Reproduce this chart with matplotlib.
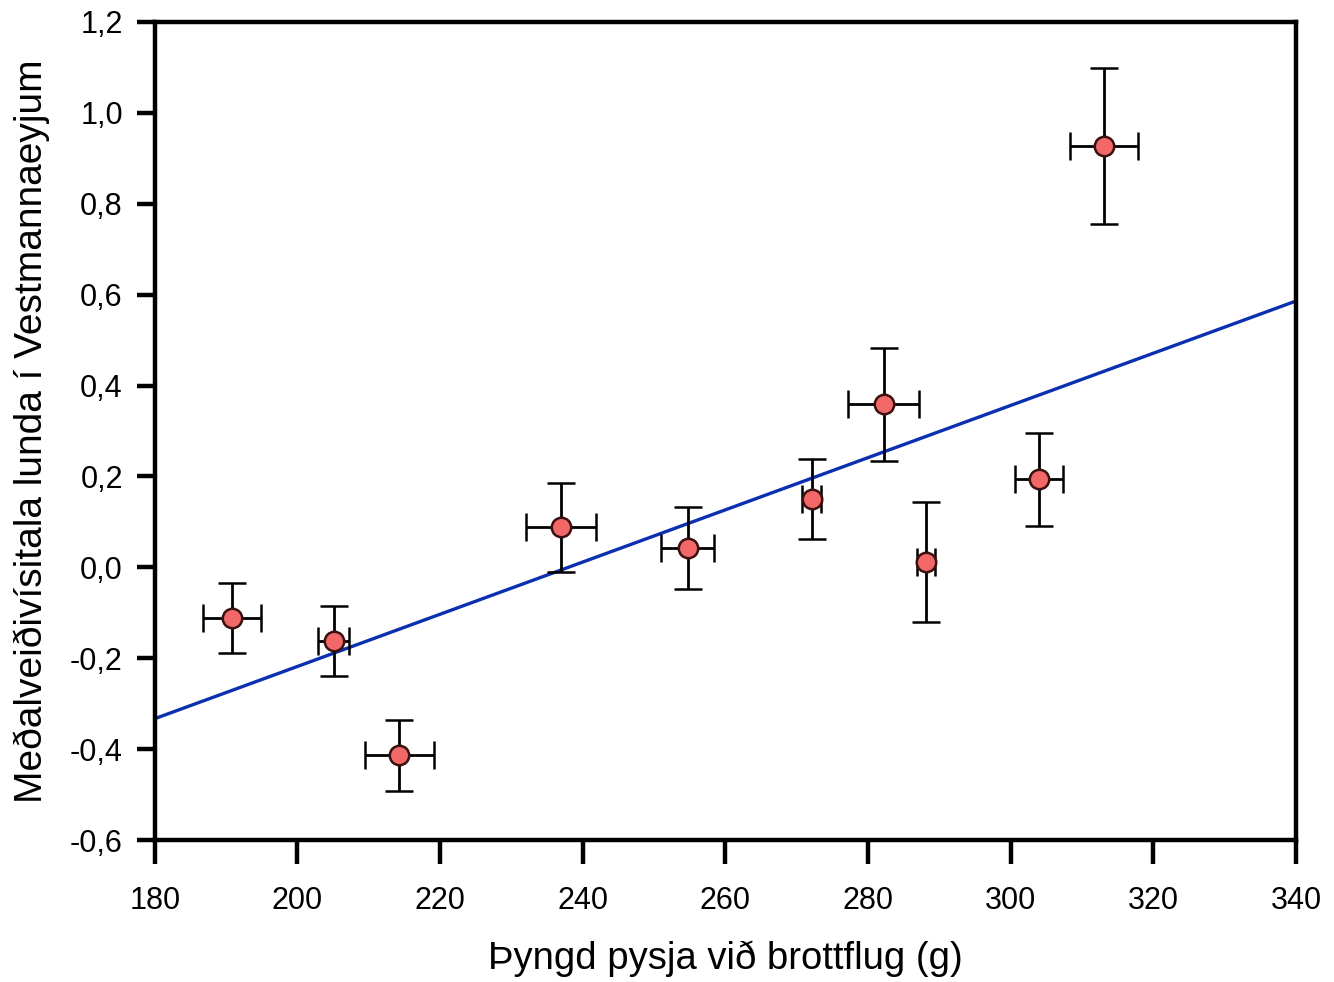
from matplotlib import pyplot as plt
from matplotlib import ticker

# pysja weight at fledging (g) vs mean catch index
weight = [190.8, 205.1, 214.3, 237.0, 254.7, 272.1, 282.2, 288.1, 304.0, 313.1]
weight_err = [4.1, 2.2, 4.8, 4.9, 3.7, 1.3, 5.0, 1.3, 3.4, 4.8]
index = [-0.112, -0.163, -0.414, 0.088, 0.042, 0.150, 0.359, 0.011, 0.194, 0.927]
index_err = [0.077, 0.077, 0.079, 0.098, 0.090, 0.088, 0.124, 0.132, 0.102, 0.172]

# regression line end points
fit_x = [180, 340]
fit_y = [-0.333, 0.586]

plt.rcParams['font.family'] = ['Liberation Sans', 'DejaVu Sans']

fig = plt.figure(figsize=(13.34, 9.82), dpi=100)
ax = fig.add_axes([0.116, 0.1446, 0.8555, 0.833])

ax.plot(fit_x, fit_y, color='#0a2fb0', linewidth=2.4, zorder=2)
ax.errorbar(weight, index, xerr=weight_err, yerr=index_err, fmt='o',
            color='k', ecolor='k', elinewidth=2, capsize=10, capthick=2,
            markersize=14, markerfacecolor='#f26868', markeredgecolor='#3a1010',
            markeredgewidth=1.8, zorder=3)

ax.set_xlim(180, 340)
ax.set_ylim(-0.6, 1.2)
ax.xaxis.set_major_locator(ticker.MultipleLocator(20))
ax.yaxis.set_major_locator(ticker.MultipleLocator(0.2))
ax.yaxis.set_major_formatter(ticker.FuncFormatter(lambda v, p: ('%.1f' % v).replace('.', ',')))

for s in ax.spines.values():
    s.set_linewidth(3.2)
ax.tick_params(direction='out', width=3.2, labelsize=22)
ax.tick_params(axis='x', length=17, pad=16)
ax.tick_params(axis='y', length=13, pad=10)

ax.set_xlabel('Þyngd pysja við brottflug (g)', fontsize=27.5, labelpad=18)
ax.set_ylabel('Meðalveiðivísitala lunda í Vestmannaeyjum', fontsize=28, labelpad=14)

fig.savefig('out.png', dpi=100)
